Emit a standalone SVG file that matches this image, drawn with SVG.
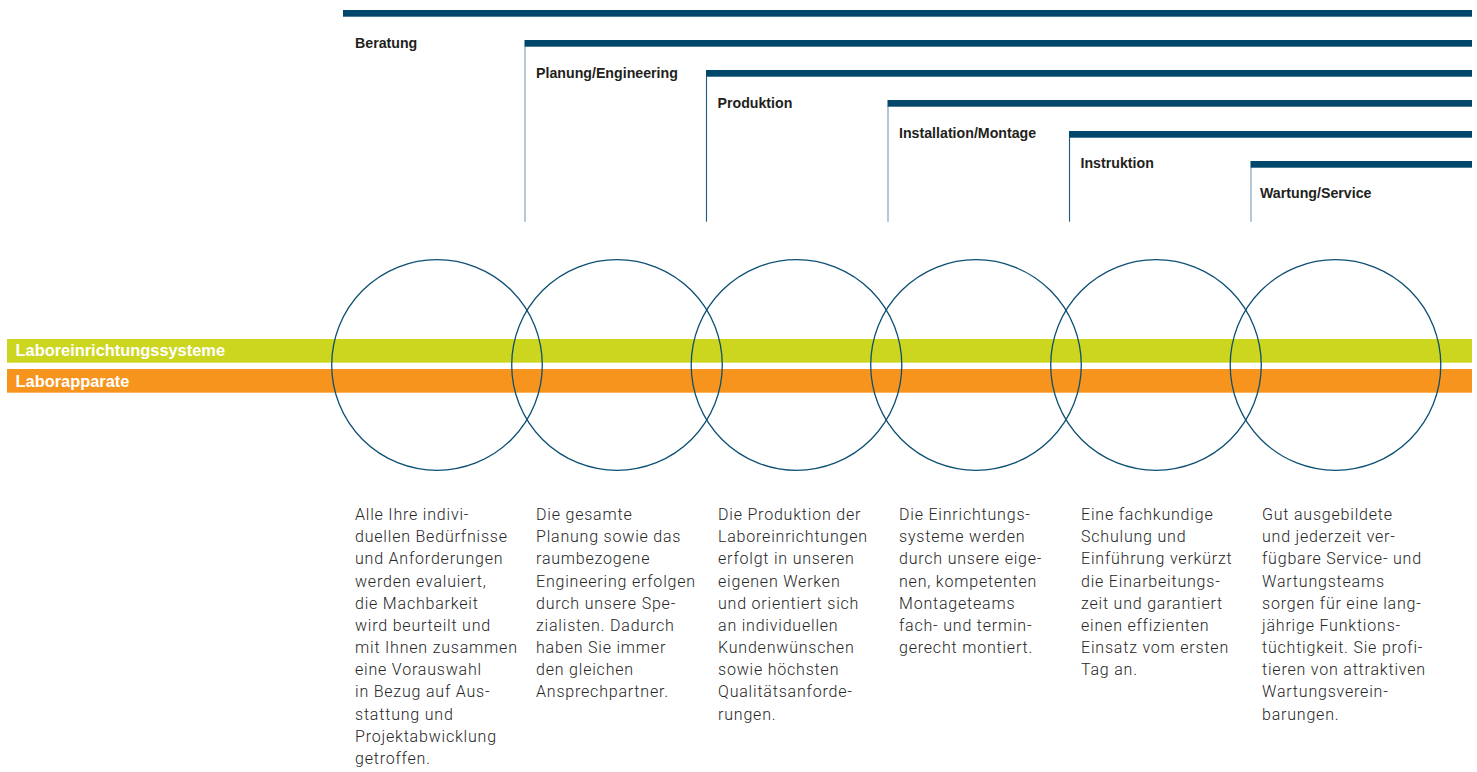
<svg xmlns="http://www.w3.org/2000/svg" width="1477" height="772" viewBox="0 0 1477 772">
  <style>
    .bar { fill: #00476b; }
    .tick { stroke: #1a5a80; stroke-width: 1.1; fill: none; }
    .phase { font-family: "Liberation Sans", Arial, sans-serif; font-weight: bold; font-size: 14.2px; fill: #231f20; }
    .ring { fill: none; stroke: #0d4f73; stroke-width: 1.3; }
    .band-label { font-family: "Liberation Sans", Arial, sans-serif; font-weight: bold; font-size: 16.4px; fill: #ffffff; }
    .body { font-family: Roboto, "Liberation Sans", Arial, sans-serif; font-weight: 300; font-size: 16px; letter-spacing: 0.8px; fill: #262626; }
  </style>

  <!-- product lines running behind the process circles -->
  <g id="bands">
    <rect x="7" y="339" width="1465" height="23.7" fill="#cdd61f"/>
    <rect x="7" y="369" width="1465" height="23.7" fill="#f7941d"/>
    <text class="band-label" x="15.5" y="356">Laboreinrichtungssysteme</text>
    <text class="band-label" x="15.5" y="386.5">Laborapparate</text>
  </g>

  <!-- staggered phase bars with their left brackets -->
  <g id="connectors">
    <rect class="bar" x="343" y="10" width="1129" height="6.7"/>
    <rect class="bar" x="524.5" y="40" width="947.5" height="6.7"/>
    <line class="tick" x1="525" y1="46" x2="525" y2="221.7" stroke-opacity="0.6"/>
    <rect class="bar" x="706" y="70" width="766" height="6.7"/>
    <line class="tick" x1="706.5" y1="76" x2="706.5" y2="221.7"/>
    <rect class="bar" x="887.5" y="100" width="584.5" height="6.7"/>
    <line class="tick" x1="888" y1="106" x2="888" y2="221.7" stroke-opacity="0.6"/>
    <rect class="bar" x="1069" y="131" width="403" height="6.7"/>
    <line class="tick" x1="1069.5" y1="137" x2="1069.5" y2="221.7"/>
    <rect class="bar" x="1250.5" y="161" width="221.5" height="6.7"/>
    <line class="tick" x1="1251" y1="167" x2="1251" y2="221.7" stroke-opacity="0.6"/>
  </g>

  <g id="beratung">
    <text class="phase" x="355" y="48.3">Beratung</text>
    <circle class="ring" cx="437" cy="365" r="105.3"/>
    <text class="body" x="355" y="520">
      <tspan x="355">Alle Ihre indivi-</tspan>
      <tspan x="355" dy="22.17">duellen Bedürfnisse</tspan>
      <tspan x="355" dy="22.17">und Anforderungen</tspan>
      <tspan x="355" dy="22.17">werden evaluiert,</tspan>
      <tspan x="355" dy="22.17">die Machbarkeit</tspan>
      <tspan x="355" dy="22.17">wird beurteilt und</tspan>
      <tspan x="355" dy="22.17">mit Ihnen zusammen</tspan>
      <tspan x="355" dy="22.17">eine Vorauswahl</tspan>
      <tspan x="355" dy="22.17">in Bezug auf Aus-</tspan>
      <tspan x="355" dy="22.17">stattung und</tspan>
      <tspan x="355" dy="22.17">Projektabwicklung</tspan>
      <tspan x="355" dy="22.17">getroffen.</tspan>
    </text>
  </g>

  <g id="planung">
    <text class="phase" x="536" y="78.3">Planung/Engineering</text>
    <circle class="ring" cx="617" cy="365" r="105.3"/>
    <text class="body" x="536" y="520">
      <tspan x="536">Die gesamte</tspan>
      <tspan x="536" dy="22.17">Planung sowie das</tspan>
      <tspan x="536" dy="22.17">raumbezogene</tspan>
      <tspan x="536" dy="22.17">Engineering erfolgen</tspan>
      <tspan x="536" dy="22.17">durch unsere Spe-</tspan>
      <tspan x="536" dy="22.17">zialisten. Dadurch</tspan>
      <tspan x="536" dy="22.17">haben Sie immer</tspan>
      <tspan x="536" dy="22.17">den gleichen</tspan>
      <tspan x="536" dy="22.17">Ansprechpartner.</tspan>
    </text>
  </g>

  <g id="produktion">
    <text class="phase" x="717.5" y="108.3">Produktion</text>
    <circle class="ring" cx="796.5" cy="365" r="105.3"/>
    <text class="body" x="718" y="520">
      <tspan x="718">Die Produktion der</tspan>
      <tspan x="718" dy="22.17">Laboreinrichtungen</tspan>
      <tspan x="718" dy="22.17">erfolgt in unseren</tspan>
      <tspan x="718" dy="22.17">eigenen Werken</tspan>
      <tspan x="718" dy="22.17">und orientiert sich</tspan>
      <tspan x="718" dy="22.17">an individuellen</tspan>
      <tspan x="718" dy="22.17">Kundenwünschen</tspan>
      <tspan x="718" dy="22.17">sowie höchsten</tspan>
      <tspan x="718" dy="22.17">Qualitätsanforde-</tspan>
      <tspan x="718" dy="22.17">rungen.</tspan>
    </text>
  </g>

  <g id="montage">
    <text class="phase" x="899" y="138.3">Installation/Montage</text>
    <circle class="ring" cx="976" cy="365" r="105.3"/>
    <text class="body" x="899" y="520">
      <tspan x="899">Die Einrichtungs-</tspan>
      <tspan x="899" dy="22.17">systeme werden</tspan>
      <tspan x="899" dy="22.17">durch unsere eige-</tspan>
      <tspan x="899" dy="22.17">nen, kompetenten</tspan>
      <tspan x="899" dy="22.17">Montageteams</tspan>
      <tspan x="899" dy="22.17">fach- und termin-</tspan>
      <tspan x="899" dy="22.17">gerecht montiert.</tspan>
    </text>
  </g>

  <g id="instruktion">
    <text class="phase" x="1080.5" y="168.3">Instruktion</text>
    <circle class="ring" cx="1156" cy="365" r="105.3"/>
    <text class="body" x="1081" y="520">
      <tspan x="1081">Eine fachkundige</tspan>
      <tspan x="1081" dy="22.17">Schulung und</tspan>
      <tspan x="1081" dy="22.17">Einführung verkürzt</tspan>
      <tspan x="1081" dy="22.17">die Einarbeitungs-</tspan>
      <tspan x="1081" dy="22.17">zeit und garantiert</tspan>
      <tspan x="1081" dy="22.17">einen effizienten</tspan>
      <tspan x="1081" dy="22.17">Einsatz vom ersten</tspan>
      <tspan x="1081" dy="22.17">Tag an.</tspan>
    </text>
  </g>

  <g id="wartung">
    <text class="phase" x="1260" y="198.3">Wartung/Service</text>
    <circle class="ring" cx="1335.5" cy="365" r="105.3"/>
    <text class="body" x="1262" y="520">
      <tspan x="1262">Gut ausgebildete</tspan>
      <tspan x="1262" dy="22.17">und jederzeit ver-</tspan>
      <tspan x="1262" dy="22.17">fügbare Service- und</tspan>
      <tspan x="1262" dy="22.17">Wartungsteams</tspan>
      <tspan x="1262" dy="22.17">sorgen für eine lang-</tspan>
      <tspan x="1262" dy="22.17">jährige Funktions-</tspan>
      <tspan x="1262" dy="22.17">tüchtigkeit. Sie profi-</tspan>
      <tspan x="1262" dy="22.17">tieren von attraktiven</tspan>
      <tspan x="1262" dy="22.17">Wartungsverein-</tspan>
      <tspan x="1262" dy="22.17">barungen.</tspan>
    </text>
  </g>
</svg>
